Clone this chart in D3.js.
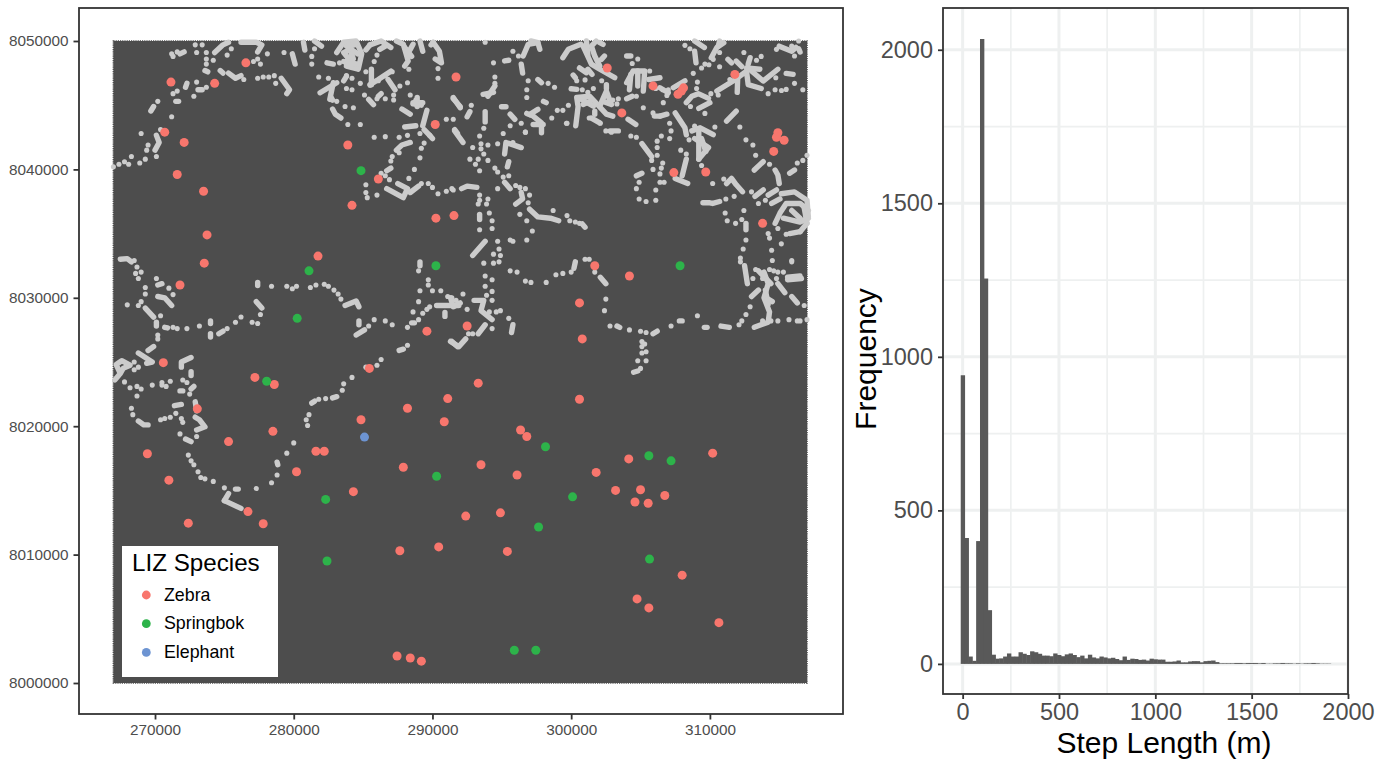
<!DOCTYPE html>
<html lang="en">
<head>
  <script src="https://d3js.org/d3.v7.min.js"></script>
  <style>
    body { margin: 0; background: #fff; }
    text { font-family: "Liberation Sans", Arial, sans-serif; }
  </style>
</head>
<body>
<script>
// all map positions are [easting km, northing km - 8000]
const zebraPoints = [[271.15,46.8],[274.3,46.7],[276.55,48.3],[291.7,47.2],[302.6,47.9],[305.9,46.5],[308.1,46.35],[307.95,46.1],[307.7,45.85],[303.65,44.4],[311.8,47.4],[270.7,42.9],[272.1,42.1],[271.6,39.6],[273.5,38.3],[273.75,34.9],[273.55,32.7],[271.8,31],[283.9,41.9],[290.2,43.5],[286.1,39.25],[284.2,37.2],[290.25,36.2],[291.55,36.4],[281.75,33.25],[314.9,42.85],[314.8,42.5],[315.35,42.27],[314.6,41.4],[313.8,35.8],[309.7,39.8],[307.4,39.75],[301.7,32.5],[304.2,31.7],[300.6,29.6],[300.8,26.8],[300.6,22.1],[292.5,27.8],[293.3,23.35],[291.1,22.15],[296.35,19.7],[296.8,19.2],[288.2,21.4],[290.85,20.35],[284.85,20.5],[285.45,24.5],[289.6,27.4],[270.6,24.95],[277.2,23.8],[278.6,23.25],[273.05,21.35],[278.5,19.6],[275.3,18.8],[269.45,17.85],[281.6,18.05],[282.2,18.05],[280.2,16.45],[287.9,16.8],[284.3,14.9],[271,15.8],[276.7,13.35],[277.8,12.4],[272.4,12.45],[293.5,17],[296.1,16.2],[292.4,13],[294.9,13.25],[301.8,16.4],[303.2,15],[304.15,17.45],[305,15.05],[304.6,14.1],[305.55,14],[306.75,14.6],[310.2,17.9],[290.45,10.6],[287.65,10.3],[295.4,10.25],[308,8.4],[304.75,6.55],[305.6,5.85],[310.65,4.7],[287.45,2.1],[288.4,1.95],[289.2,1.7]];
const springbokPoints = [[284.85,39.9],[281.1,32.1],[290.25,32.5],[307.85,32.5],[280.25,28.4],[278.05,23.5],[298.15,18.4],[305.6,17.7],[307.2,17.3],[290.3,16.1],[282.3,14.3],[300.1,14.5],[297.65,12.15],[282.4,9.5],[305.65,9.65],[295.9,2.55],[297.45,2.55]];
const elephantPoints = [[285.1,19.15]];

// single gps fixes, drawn as separate dots
const trackPoints = [[271.2,49],[271.3,48.8],[271.6,49.15],[272.9,49.7],[273,49.1],[273.4,49.7],[273.7,49.1],[273.7,48.6],[273.7,48.2],[274.2,48.5],[275.2,48.9],[275.5,49.4],[277.1,48.4],[277.4,48.6],[277.6,48.2],[278.1,49],[279.3,49.1],[281.3,48.8],[281.3,48.2],[281.5,49.4],[283.3,48.3],[286,48.9],[285.8,48.4],[288.3,47.8],[290.4,47.85],[290.4,47.1],
[276.4,47],[277.4,47.1],[277.8,47.2],[278.2,47.2],[278.6,47.3],[278.7,46.7],[273,46.8],[271.6,46.1],[271.3,45.9],[273.7,46.4],[272.8,45.7],[270.2,45.3],[271.2,44.1],[269,42.8],[270.4,43.1],[269.5,41.9],[269.4,41.5],[270.1,41],[269.3,40.8],[268.9,40.5],[268.3,41],[268.1,40.4],[267.8,40.6],[267.4,40.4],[267,40.2],
[281.8,47.2],[282.5,47.1],[283.8,47.3],[284.2,47.1],[284.8,46.7],[283.8,46.3],[284.2,46.2],[283.1,45.3],[285.1,45.8],[285.2,47.6],[285.5,46.55],[286.1,46.9],[286.6,47.3],[287.1,47.6],[287.65,46.5],[288.2,46.75],[287.2,45.8],[287.2,45.4],[286.6,45.5],[286,45.5],[288.4,45.8],[288.8,45.4],[283.7,44.9],[284.3,44.8],[283.9,43.5],[284.8,43.5],[285.8,42.5],[286.6,42.55],[289.1,42.8],[289.4,42.05],[289.2,41.65],[289.1,40.9],[288.7,40],[288.3,39.3],[288.2,42.65],[287.6,42.5],[287.6,41.3],[287.1,41],[287,40.65],[286.3,39.7],[286.6,39.5],[286.9,39.2],[285.2,38.8],[285.2,38.2],[285.3,37.8],[286,38],[289.2,38.9],[289.7,38.9],[290,38.6],[290.4,38.1],[291,38.3],[291.4,38.5],[291,43.9],[291.5,43.9],
[268.5,32.9],[268.7,32.4],[269,32],[268.6,31.9],[268.8,31.5],[269.3,30.8],[269.3,30.3],[270.1,31.5],[271,30.75],[271.3,30.25],[268,29.45],[268.8,29.4],[269,29.7],[270.4,28.6],[271.3,27.7],[271.6,27.6],[272.3,27.6],[273.2,27.8],[275.2,27.6],[275.8,28.1],[276.2,28.5],[277,28.1],[277.4,28],[277.6,28.7],[278.4,30.9],[279.5,30.9],[279.9,30.7],[280.2,30.9],[281.2,30.8],[281.6,31],[282.2,31.05],[282.5,30.9],[282.9,30.6],[283.2,30.3],[283.4,29.9],[285.4,27.8],[285.8,28.3],[286.6,28.2],[287.1,27.9],[288.2,27.7],[289,28.3],[289.3,28.8],[289.6,29.1],[289.8,29.3],[288.6,28.9],[289,29.7],[289,32.1],[289.7,31.4],[289.7,31],[290,30.55],[290.6,30.55],[289.1,30.55],[291.1,30.1],[291.4,30],[291.7,29.8],
[288.2,26.3],[286.3,25.2],[286,24.75],[285.2,24.6],[284.2,23.8],[283.6,23.3],[283.5,22.8],[282.3,22.15],[281.8,22.1],[281.1,20.9],[280.9,20.5],[281,20.05],[280,18.7],[279.5,17.9],[278.8,16.2],[278.4,15.6],[277.3,15.15],[275,15.2],[274.2,15.7],[273.6,15.9],[273.3,16],[273.1,16.45],[272.8,17],[272.6,17.3],[272.4,17.75],
[268.5,24.4],[268.5,25],[268.8,24.6],[267.8,23.45],[270.2,26.8],[270.2,27.1],[272,23.6],[272.3,23.4],[271.1,23.5],[270.5,23.4],[270.5,23.2],[270.8,23.1],[269.8,23.2],[268.7,23.1],[269,22.9],[268.2,23],[268.7,22.35],[272.5,22.5],[268.3,21.4],[268.4,20.9],[270.4,20.5],[270.7,20.6],[271.1,20.7],[271.5,21],[271.9,20.6],[272,20.3],[271.8,19.4],[273,19.2],
[293.8,49.9],[295.8,49.2],[296.2,48.83],[294.4,48.3],[296.9,46.9],[296.8,46.2],[296.8,45.6],[298.34,46.7],[298.8,46.4],[294.5,47.2],[294.5,46.7],[292.8,45],[295.6,43.4],[296.4,43.6],[296.7,42.9],[298.6,44],[299,44.6],[299.4,44.6],[299.8,45],[299.7,43.6],[299.66,43.6],[300.4,46.9],[301,46.97],[302.2,46.9],[300.8,46.2],[301.2,46],[301.6,46.3],[303,45.4],[303.3,45.1],[301.3,44],[302.1,43.6],[302.5,43],[302.9,42.9],[304.3,42.6],[304.7,42.5],[303.4,45.5],[304.7,45.7],[304.8,48.6],[304.4,48.25],[305.66,47.66],[306.1,46.3],[306.6,46.2],[307,46.2],[306.9,45.76],[306.64,45.2],[305.2,44.8],[305.9,44.4],[307.1,43.6],[307.2,43],[307.1,42.4],[308.6,44.9],[309.64,44.36],[309.1,46.8],[309.04,46.3],[308.8,47.48],[309.4,47.9],[309.64,48.2],[309.93,48.15],[310.07,45.9],[310.6,45.8],[308.2,49.66],[308.56,49.4],[310.24,48.57],[310.7,49.1],[310.7,48],[311.44,47],[312.45,49.1],[313.36,48.5],[313.7,48.8],[314.2,45.9],[314.7,46.2],[315.16,46.15],[315.5,46.23],[316.7,46.2],[316.1,46.7],[314.75,47.14],[316.1,48.83],[314.8,49.35],[315.9,49.6],[316.4,50],[312.16,43.3],[310.36,43.3],[308.9,43.37],[308.5,42.3],[307.9,41.5],[308.3,41.2],[309.4,40.3],[310.2,38.9],[306.2,42.2],[306.5,42.6],[306.2,41.7],[306.2,41.1],[305.8,40.7],[306.6,40.5],[306.5,40.1],[305.9,40],[306.4,39.65],[306.4,39],[306.7,39],[304.9,39],[304.7,38.5],[306.1,38.4],[304.9,37.7],[305.4,37.5],[306.1,37.6],[311,39.25],[311.15,37.7],[311.75,37.9],[311.1,36.6],[311.25,36],[311.85,35.8],[312.3,36.1],[312.45,36.8],[312.6,34.5],[312.4,33.8],[312.2,33.1],[312.2,32.8],[313.3,41.1],[312.6,42.3],[313.1,41.9],[314.3,40.4],[316.3,40.5],[316.7,40.7],[317,41.1],[313,38.25],[313.5,37.35],[314,37.6],[314.2,35],[314.3,34.65],[315.15,34.2],[314.45,33.7],[314.5,32.9],[315.9,32.8],[315.5,34.95],[314.9,35.4],
[293.4,35.3],[294.3,35.4],[294.1,36.6],[294.3,36],[296.8,36],[297.2,35.2],[296.3,36.5],[298.7,36.8],[299.7,36.4],[299.9,36],[300.3,35.9],[300.6,35.8],[296.9,37.4],[297,38],[296,38.75],[296.3,38.6],[296.7,38.5],[294.7,38.5],[294.7,39.8],[295.1,39.4],[295.5,39.5],[294.5,40.1],[293.4,39.9],[294,40.7],[292.7,40.8],[293.1,40.4],[293.3,40.8],[292.9,41.7],[293.5,42],[293.5,41.6],[293.7,41.2],[294,41.9],[293.4,42.6],[293.7,43.2],[294.7,42],[295.1,42.8],[295.8,42.1],[296.7,42.9],[291.5,38.4],[293.4,38],[293.4,37.6],[293.3,37.3],[294,37.7],[293.9,37.3],
[294.4,33.4],[294.8,33.8],[294.9,33.3],[294.8,32.8],[294.7,34.4],[295.6,34.5],[295.8,34.4],[296.8,34.5],[295.6,32.1],[296.1,32],[296.7,31.3],[297.1,31.2],[298.2,31.2],[298.9,31.8],[299.4,31.9],[300,32],[301,33],[301.3,33],[301.7,32],[302.5,29.9],[302.4,29],[302.8,27.8],[304.2,27.5],[305,27.4],[305.4,27.3],[307.2,27.8],[309.1,28.6],[312.1,27.9],[312.3,28.2],[312.6,28.7],[312.9,29.3],[305.1,26.6],[305.3,26.4],[305.1,26.2],[305.1,25.7],[305.4,25.8],[305.4,25.1],[304.8,25.1],[305,24.5],[313.3,32.2],[313.1,31.5],[313.8,31.5],[314.3,32.2],[314.6,32.1],[314.9,32],[315.3,32],[314.8,31.5],[316.8,29.4],[314.9,28.2],[315.7,28.3],[316.3,28.2],[316.5,28.2],[317,28.3],[313.8,28.2],[314.4,28.2],[315.9,32.9],
[292.2,30.3],[292.5,29.1],[293.8,30.9],[294.3,31.4],[294.3,30.5],[293.8,31.7],[293.7,32.7],[294.4,32.7],[293.9,30.2],[294.3,29.8],[294.1,28.9],[294.6,28.9],[294.9,29],[295.5,28.4],[294.3,27.6],[292.6,27.2],[292.9,27.2]];

// runs of fixes so close together they read as thick strokes
const trackRuns = [
[[271.8,49],[272.1,49.15]],[[274.3,49.1],[274.9,49.7],[275.3,49.9]],[[276.2,49.9],[277.3,49.9],[277.7,49.7],[277.4,49.15]],[[279.9,49],[280.1,48.2]],[[280.7,49.9],[280.8,49.3]],[[281.5,50],[282,49.6]],
[[283.1,49.1],[283.6,49.9],[284.5,50],[284.9,49],[284.65,47.8],[283.8,48.05],[284.3,48.6],[284.05,49.35],[283.6,49.1],[283.9,48.7],[283.8,48.05]],[[284.4,49.7],[283.8,49.6],[284.6,49]],[[283.6,48.4],[284.6,48.2]],[[282.4,48.3],[282.85,48.2]],[[285.5,49.7],[286.3,50],[287,49.5]],[[286.2,49.35],[286.6,49.6]],[[285.2,49.3],[285.5,49.7]],
[[287.4,50],[287.9,49.75],[288.25,48.45],[288,48.05]],[[288.4,49.35],[288.6,49.75]],[[289.1,50],[289.3,49.2]],[[288,49.5],[288.5,48.8]],[[290.05,49.9],[290.5,49.2],[290.65,48.3],[290.2,48.6]],[[289.9,49.7],[290.05,49.9]],
[[285.6,47.8],[285.6,46.6]],[[287,47.65],[286.45,47.25],[286.1,47],[285.5,46.6]],[[286.8,47],[287.3,46.2]],[[285.4,45.45],[285.75,45.05]],[[286.1,45.7],[286.3,45.9]],[[288.6,45.2],[289.3,45.2]],[[288.9,45.6],[288.9,44.9]],[[283.1,46.75],[281.9,45.97]],[[282.85,46.75],[282.6,45.45]],[[283.8,47.25],[283.6,46.9]],[[294,45.7],[294.5,46.5]],[[293.65,45.85],[294.4,46]],[[291.5,45.6],[292,44.8]],
[[273.6,47.7],[273.8,47.6]],[[274.7,47.7],[274.9,47.5]],[[275.3,47.5],[275.8,47.1],[276.2,47.3]],[[279.1,47.1],[279.7,46.2],[279.5,45.9]],[[272.2,46.4],[272.3,46.7]],[[273.1,46.2],[273.4,46.2]],[[271.5,45.3],[271.7,45.3]],[[269.7,44.55],[269.9,44.9]],[[270.1,42.65],[270.3,42.1],[270,41.5]],
[[282.7,45.6],[282.8,45.4]],[[288.6,45.1],[289.2,45]],[[282.8,44.7],[283,44.3],[283.4,44]],[[287.8,44.7],[288.4,44.3]],[[289.6,44.6],[289.3,43.4]],[[289.8,42.65],[290,42.4]],[[289.4,43.1],[289.8,42.65]],[[288,43.3],[288.8,43.4]],[[287.4,41.5],[287.8,41.9],[288.4,42.1]],[[286.7,39.9],[287,40.1]],[[286.7,38.5],[287.9,37.8],[288.2,38.5],[287.5,38.9]],[[288.4,38.2],[289,38.7]],[[291.6,43.1],[291.8,42.8]],
[[267.5,33],[268,33.05],[268.3,32.8]],[[270.2,31],[270.5,31.1]],[[270.2,30.1],[270.7,30],[271.2,29.4]],[[269.3,29.2],[269.9,28.5]],[[270.1,28.1],[270.1,27.8]],[[270.7,27.7],[270.9,27.65]],[[274,28.2],[274,28]],[[274,27.2],[274,26.95]],[[274.6,27.2],[274.9,27.4]],[[277.3,29.7],[277.7,29.2]],[[277.4,31.2],[277.4,30.95]],[[283.7,29.4],[284.5,29.75],[284.7,29.3]],[[284.7,28.2],[284.7,27.9]],[[284.5,27.1],[285.1,27.5]],[[288.5,28.05],[288.7,28.05]],[[290.3,29.4],[291.9,29.4]],[[290.9,28.85],[290.9,28.55]],[[289.1,32.8],[289.1,32.5]],[[291.4,26.6],[291.8,26.2]],[[287.6,25.9],[287.9,26]],[[283.1,22.3],[282.8,22.2]],[[281.3,21.8],[281.5,21.95]],[[278.8,17.2],[278.85,17]],[[275.8,15.1],[276,15.1]],[[275,14.2],[275.3,14.75]],[[275,14.2],[276.2,13.6]],
[[267.1,23.6],[267.5,24.1],[267.2,24.8],[267.6,25.1],[268.2,24.75],[267.7,24.5],[267.5,24.1]],[[268.8,25.7],[269.8,25],[269.4,24.9]],[[269.5,25.9],[269.9,26.2]],[[271.9,24.6],[271.9,25],[272.6,25.35]],[[272.6,24.25],[272.6,23.95]],[[272.6,22.9],[272.8,23.1]],[[271.8,22.75],[272,22.75]],[[268.8,20.4],[269.2,20.1],[269.5,20.1]],[[271.4,21.6],[271.9,21.7]],[[272.9,21.9],[273,21.2]],[[272.9,20.7],[273.2,20.5],[273.6,19.95],[273,19.7]],[[272.2,19],[272.6,18.8]],
[[296.54,48.83],[296.9,49.74],[297.6,49.87],[297.74,49.35]],[[297.1,50],[297.6,49.87]],[[296.4,48.2],[296.5,47.5]],[[295.2,48.45],[295.5,48.5]],[[291.5,45.5],[292,44.9]],[[292.5,44.1],[292.7,44.5]],[[293.8,44.5],[293.8,43.7]],[[294.98,44.88],[295.3,44.88]],[[295.6,44.3],[295.94,43.9]],[[297.6,47],[297.86,46.75]],[[298,45.3],[298.2,45.2]],
[[296.8,44.36],[297.26,44.15],[297.86,43.63],[297.86,42.85]],[[297.6,44.67],[297,44.28]],[[297.26,43.5],[297.98,43.5]],
[[299.4,48.7],[299.8,49.35],[300.7,49.74]],[[300.86,49.6],[301.46,48.2],[302.06,47.8],[303.14,47.14]],[[301.1,50],[301.2,48.96]],[[301.8,50],[301.46,49.6],[301.7,48.83],[302.06,48.05]],[[302.18,48.57],[302.4,48.83]],[[302.06,49.87],[302.3,49.74]],[[300.6,47.9],[301.1,47.53]],[[301.2,47.8],[301.5,47.4]],[[300.14,47.35],[300.3,47.14]],
[[300.33,43.4],[300.5,44.9],[300.4,45.6],[301.34,45.7],[302.54,44.3],[303,44.15]],[[300.74,45.45],[301.6,44.93]],[[301.34,45.3],[300.86,45.06]],[[300,46.28],[300.4,46.23]],[[302.06,44.93],[302.54,46.1],[302.9,45.06],[302.3,45.3]],[[302.54,46.6],[302.54,46.3]],[[301.46,44],[302.06,43.63]],[[301.7,44.54],[301.7,44.3]],[[302.8,43],[303.4,43]],
[[304.1,43.9],[304.66,43.5]],[[304,45.5],[304.4,45.7]],[[304,46.75],[304.46,47.66],[305.3,47.66],[305.2,46.1]],[[304.8,47.66],[304.8,46.5]],[[304.3,47.4],[304.2,46.2]],[[304,48.83],[304.3,48.83]],[[305.6,47],[306.4,47.14]],[[306,44.15],[306.4,44.15]],
[[308.9,50],[309.6,49.5]],[[308.9,49.2],[309,48.3]],[[310.1,48.7],[310.5,49.5],[311,49.87]],[[310.7,50],[310.6,49.6]],[[311.3,48.57],[311.56,48.3]],[[311.9,48.44],[312.3,48]],[[312.9,48.7],[312.76,48.2]],
[[310.5,46.1],[311.7,46.9],[312.64,47.66],[312.76,46.6],[313.7,46.3]],[[312,47],[311.97,46]],[[312.64,47.9],[313.6,47.8]],[[313,47.66],[313.84,46.88],[314.9,47.8]],[[315.5,47.48],[316,47.4]],[[315,49.6],[315.9,49.2],[316.2,49.5]],[[316.4,49.4],[316.5,49.14]],
[[307.36,46.36],[308.2,46.9]],[[306.4,46.36],[307,45.97]],[[308.3,45.2],[308.7,45.7],[309.16,45.9],[309.9,45.53]],[[309.2,44.75],[310,45.2]],[[311.2,43.76],[311.9,44.54]],[[306.4,44.15],[306.9,44.3]],[[307.5,44.4],[308.2,43.24],[308.3,42.7]],[[308.7,43],[309.3,43.24],[310.24,42.7]],
[[308.9,42.4],[309.9,41.7],[309.2,40.8]],[[309.2,43],[309.2,40.8]],[[309.4,42.4],[309.7,41.4]],[[308.3,40.8],[308,39.5]],[[307.5,39.3],[308.4,38.9]],[[305.1,42],[305.8,41]],[[305.1,39.7],[304.7,39.5]],
[[313.2,39.95],[313.84,40.6]],[[314.7,39.95],[314.9,39.56],[315,38.9]],[[315.75,39.7],[316.1,39.95]],[[311.2,38.9],[311.56,39.3],[311.9,38.8],[312.35,38.26]],[[309.5,37.4],[310,37.4],[310.2,37.35],[310.7,37.5]],[[312.6,35.8],[312.6,35.3]],[[313.25,37.9],[313.85,38.4]],[[314.2,38],[314.8,38.4]],[[314.45,37.35],[315.05,37.7]],
[[315.15,38.1],[316.1,38.25],[317,37.6],[317.1,36.3]],[[314.7,35.8],[315.05,36.6],[315.5,37.35],[316.5,37.35],[317.1,36.8]],[[315.3,36.2],[316.5,35.9],[317.1,36.2]],[[315.9,36.8],[316.5,36.2]],[[316.5,35.15],[317,35.8]],[[315.75,35],[316.5,35.15]],[[316.8,37],[317,35.8]],
[[293.4,36.5],[293.4,36.1]],[[293.8,34.4],[292.9,33.3]],[[297,36.9],[297.6,36.3],[298.5,36.2],[299.1,36]],[[301,35.5],[300.8,35.75]],[[296,37.3],[296.5,37.7],[296.4,38.2]],[[295.2,39],[295.6,38.5]],[[295.5,40.6],[295.4,40.2]],[[291.6,43],[292.2,42.1]],[[295.2,41.2],[295.3,42.1],[296.4,41.7]],[[292.1,38.5],[292.5,38.7],[293.2,38.6]],
[[300.3,32.8],[300.2,32.3]],[[302.1,31.6],[302.5,31.1]],[[303.3,27.8],[303.5,27.7]],[[305.9,27.2],[306.2,27.4]],[[307.8,28.2],[308,28.2]],[[309.6,27.7],[309.8,27.7]],[[310.8,27.8],[311.4,27.7]],[[304.5,24.2],[304.8,24.3]],
[[313.9,32],[314.2,31.1],[313.9,30],[314.3,28.9],[314.2,28.1],[313.2,27.7]],[[313.5,32.1],[314.4,31.1]],[[314,30.6],[314.2,29.5]],[[312.5,32.5],[312.7,31.1]],[[315.6,31.4],[316.6,31.5]],[[315.6,31.6],[316.5,31.7]],[[314.9,31.1],[315.4,30.4]],[[313,30.1],[313.5,30.6]],[[315.9,30.1],[316.3,29.6]],[[314.2,29.9],[314.5,29.7]],
[[291.3,30],[291.5,29.3],[292,29.6]],[[293,29.8],[293.7,29.8],[293.5,29],[294.3,28.3]],[[295.8,27.9],[295.7,27.3]],[[293.3,27.2],[293.8,27.9]],[[291.3,26.6],[291.9,26.2],[292.4,26.8]]];

const speciesNames = ["Zebra", "Springbok", "Elephant"];
const speciesColors = ["#F8766D", "#2DB34A", "#6D94D2"];
const eastingTicks = [270000, 280000, 290000, 300000, 310000];
const northingTicks = [8000000, 8010000, 8020000, 8030000, 8040000, 8050000];

// histogram, 20 m bins centred on 0, 20, 40 ...
const binWidth = 20;
const stepCounts = [940,410,24,10,400,2035,1255,175,30,17,18,24,34,24,24,38,33,29,41,38,33,27,27,25,34,29,25,31,34,29,22,27,18,30,21,18,24,21,18,20,16,12,24,13,17,16,13,14,11,17,15,14,14,7,7,8,11,5,5,8,9,9,5,9,10,11,6,2,2,2,2,3,3,2,3,3,3,2,3,1,1,2,2,3,2,2,1,2,1,2,2,3,2,1,1,1];
const stepTicks = [0, 500, 1000, 1500, 2000];
const stepMinorTicks = [250, 750, 1250, 1750];
const freqTicks = [0, 500, 1000, 1500, 2000];
const freqMinorTicks = [250, 750, 1250, 1750];

const svg = d3.select("body").append("svg")
  .attr("width", 1381)
  .attr("height", 760)
  .style("display", "block");

// ---- map panel
const mapX = d3.scaleLinear().domain([267000, 317000]).range([113.4, 807]);
const mapY = d3.scaleLinear().domain([8000000, 8050000]).range([683, 41]);
const px = d => mapX(d[0] * 1000);
const py = d => mapY(8000000 + d[1] * 1000);

svg.append("rect")
  .attr("x", mapX(267000))
  .attr("y", mapY(8050000))
  .attr("width", mapX(317000) - mapX(267000))
  .attr("height", mapY(8000000) - mapY(8050000))
  .attr("fill", "#4d4d4d")
  .attr("stroke", "#4d4d4d")
  .attr("stroke-width", 1.6)
  .attr("stroke-dasharray", "1.2 1");

const trackLine = d3.line().x(px).y(py).curve(d3.curveLinear);

svg.append("g").selectAll("path")
  .data(trackRuns)
  .join("path")
  .attr("d", trackLine)
  .attr("fill", "none")
  .attr("stroke", "#cccccc")
  .attr("stroke-width", 5.4)
  .attr("stroke-linecap", "round")
  .attr("stroke-linejoin", "round");

svg.append("g").selectAll("circle")
  .data(trackPoints)
  .join("circle")
  .attr("cx", px)
  .attr("cy", py)
  .attr("r", 2.55)
  .attr("fill", "#cccccc");

[zebraPoints, springbokPoints, elephantPoints].forEach((pts, i) => {
  svg.append("g").selectAll("circle")
    .data(pts)
    .join("circle")
    .attr("cx", px)
    .attr("cy", py)
    .attr("r", 4.5)
    .attr("fill", speciesColors[i]);
});

// map axes
const mapXAxis = svg.append("g")
  .attr("transform", "translate(0,714)")
  .call(d3.axisBottom(mapX).tickValues(eastingTicks).tickFormat(d3.format("d")).tickSize(5.5).tickPadding(4.5));
const mapYAxis = svg.append("g")
  .attr("transform", "translate(79,0)")
  .call(d3.axisLeft(mapY).tickValues(northingTicks).tickFormat(d3.format("d")).tickSize(5.5).tickPadding(5));
[mapXAxis, mapYAxis].forEach(a => {
  a.select(".domain").remove();
  a.selectAll("line").attr("stroke", "#333333").attr("stroke-width", 1.8);
  a.selectAll("text").attr("fill", "#4d4d4d").style("font-size", "15.3px");
});

svg.append("rect")
  .attr("x", 79).attr("y", 8)
  .attr("width", 764).attr("height", 706)
  .attr("fill", "none")
  .attr("stroke", "#333333")
  .attr("stroke-width", 1.8);

// legend
const legend = svg.append("g").attr("transform", "translate(122,546)");
legend.append("rect").attr("width", 156).attr("height", 131).attr("fill", "#fff");
legend.append("text").attr("x", 10).attr("y", 25).style("font-size", "24.2px").attr("fill", "#000").text("LIZ Species");
speciesNames.forEach((name, i) => {
  const ky = 49 + i * 28.7;
  legend.append("circle").attr("cx", 24.3).attr("cy", ky).attr("r", 4.4).attr("fill", speciesColors[i]);
  legend.append("text").attr("x", 42).attr("y", ky + 5.6).style("font-size", "17.8px").attr("fill", "#000").text(name);
});

// ---- histogram panel
const histX = d3.scaleLinear().domain([-102, 2000]).range([943, 1348]);
const histY = d3.scaleLinear().domain([-98, 2136]).range([694, 8]);

svg.append("g").selectAll("line")
  .data(stepMinorTicks)
  .join("line")
  .attr("x1", d => histX(d)).attr("x2", d => histX(d))
  .attr("y1", 8).attr("y2", 694)
  .attr("stroke", "#eef0f0").attr("stroke-width", 1.7);
svg.append("g").selectAll("line")
  .data(freqMinorTicks)
  .join("line")
  .attr("x1", 943).attr("x2", 1348)
  .attr("y1", d => histY(d)).attr("y2", d => histY(d))
  .attr("stroke", "#eef0f0").attr("stroke-width", 1.7);
svg.append("g").selectAll("line")
  .data(stepTicks)
  .join("line")
  .attr("x1", d => histX(d)).attr("x2", d => histX(d))
  .attr("y1", 8).attr("y2", 694)
  .attr("stroke", "#eef0f0").attr("stroke-width", 3);
svg.append("g").selectAll("line")
  .data(freqTicks)
  .join("line")
  .attr("x1", 943).attr("x2", 1348)
  .attr("y1", d => histY(d)).attr("y2", d => histY(d))
  .attr("stroke", "#eef0f0").attr("stroke-width", 3);

svg.append("g").selectAll("rect")
  .data(stepCounts)
  .join("rect")
  .attr("x", (d, i) => histX(i * binWidth - binWidth / 2))
  .attr("width", histX(binWidth) - histX(0) + 0.5)
  .attr("y", d => histY(d))
  .attr("height", d => histY(0) - histY(d))
  .attr("fill", "#595959");

const histXAxis = svg.append("g")
  .attr("transform", "translate(0,694)")
  .call(d3.axisBottom(histX).tickValues(stepTicks).tickFormat(d3.format("d")).tickSize(5).tickPadding(4));
const histYAxis = svg.append("g")
  .attr("transform", "translate(943,0)")
  .call(d3.axisLeft(histY).tickValues(freqTicks).tickFormat(d3.format("d")).tickSize(5).tickPadding(5));
[histXAxis, histYAxis].forEach(a => {
  a.select(".domain").remove();
  a.selectAll("line").attr("stroke", "#333333").attr("stroke-width", 1.8);
  a.selectAll("text").attr("fill", "#4d4d4d").style("font-size", "23.5px");
});

svg.append("rect")
  .attr("x", 943).attr("y", 8)
  .attr("width", 405).attr("height", 686)
  .attr("fill", "none")
  .attr("stroke", "#333333")
  .attr("stroke-width", 1.8);

svg.append("text")
  .attr("x", 1164)
  .attr("y", 753)
  .attr("text-anchor", "middle")
  .style("font-size", "30px")
  .text("Step Length (m)");

svg.append("text")
  .attr("transform", "translate(876,359) rotate(-90)")
  .attr("text-anchor", "middle")
  .style("font-size", "30px")
  .text("Frequency");
</script>
</body>
</html>
